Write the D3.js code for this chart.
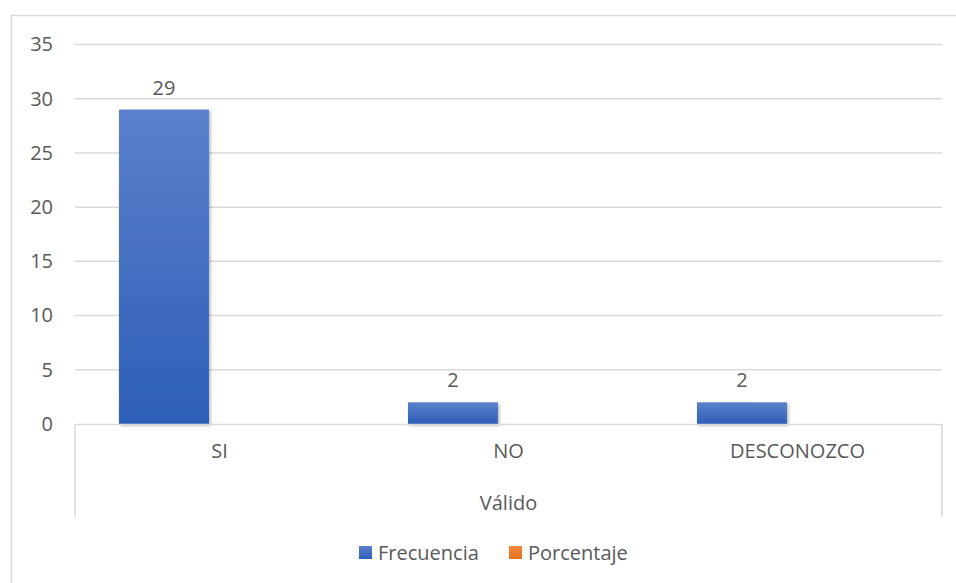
<!DOCTYPE html>
<html>
<head>
<meta charset="utf-8">
<script src="https://cdn.jsdelivr.net/npm/d3@7"></script>
<style>
  html, body { margin: 0; padding: 0; background: #fff; }
  svg { display: block; }
  text { font-family: "Open Sans", "Liberation Sans", sans-serif; fill: #595959; }
</style>
</head>
<body>
<svg id="chart" width="956" height="583"></svg>
<script>
const categories = ["SI", "NO", "DESCONOZCO"];
const seriesNames = ["Frecuencia", "Porcentaje"];
const frecuencia = [29, 2, 2];
const porcentaje = [0, 0, 0];
const yTicks = [0, 5, 10, 15, 20, 25, 30, 35];
const groupLabel = "Válido";

const colors = { Frecuencia: "url(#gradBlue)", Porcentaje: "#ed7d31" };

const svg = d3.select("#chart");
const plot = { left: 75, right: 942, top: 44.5, bottom: 424 };
const FS = 20;

const defs = svg.append("defs");
const grad = defs.append("linearGradient").attr("id", "gradBlue")
  .attr("x1", 0).attr("y1", 0).attr("x2", 0).attr("y2", 1);
grad.append("stop").attr("offset", "0%").attr("stop-color", "#5b80cb");
grad.append("stop").attr("offset", "100%").attr("stop-color", "#2d5fb8");
const lg = defs.append("linearGradient").attr("id", "gradLeg")
  .attr("x1", 0).attr("y1", 0).attr("x2", 0).attr("y2", 1);
lg.append("stop").attr("offset", "0%").attr("stop-color", "#5b80cb");
lg.append("stop").attr("offset", "100%").attr("stop-color", "#2d5fb8");
const lgo = defs.append("linearGradient").attr("id", "gradLegO")
  .attr("x1", 0).attr("y1", 0).attr("x2", 0).attr("y2", 1);
lgo.append("stop").attr("offset", "0%").attr("stop-color", "#f4883a");
lgo.append("stop").attr("offset", "100%").attr("stop-color", "#e2701f");
const flt = defs.append("filter").attr("id", "shadow")
  .attr("x", "-20%").attr("y", "-20%").attr("width", "140%").attr("height", "140%");
flt.append("feDropShadow").attr("dx", 1.5).attr("dy", 1.5).attr("stdDeviation", 1.8)
  .attr("flood-color", "#000").attr("flood-opacity", 0.3);

// outer chart border
svg.append("rect").attr("x", 11.5).attr("y", 15.5).attr("width", 1000).attr("height", 1000)
  .attr("fill", "none").attr("stroke", "#d9d9d9").attr("stroke-width", 1.5);

const x0 = d3.scaleBand().domain(categories).range([plot.left, plot.right]).padding(0);
const x1 = d3.scaleBand().domain(seriesNames).range([0, x0.bandwidth()])
  .paddingInner(0.19).paddingOuter(0.396);
const y = d3.scaleLinear().domain([0, 35]).range([plot.bottom, plot.top]);

// gridlines
svg.append("g").selectAll("line").data(yTicks.filter(t => t > 0)).join("line")
  .attr("x1", plot.left).attr("x2", plot.right)
  .attr("y1", d => y(d)).attr("y2", d => y(d))
  .attr("stroke", "#d9d9d9").attr("stroke-width", 1.5);

// y axis labels
const yAxis = d3.axisLeft(y).tickValues(yTicks).tickSize(0).tickPadding(0);
const gy = svg.append("g").attr("transform", `translate(53,0)`).call(yAxis);
gy.select(".domain").remove();
gy.selectAll("text").attr("font-size", FS).attr("fill", "#595959")
  .style("font-family", "'Open Sans', sans-serif");

// bars
const rows = categories.map((c, i) => ({ cat: c, values: [
  { s: "Frecuencia", v: frecuencia[i] }, { s: "Porcentaje", v: porcentaje[i] }] }));

const groups = svg.append("g").selectAll("g").data(rows).join("g")
  .attr("transform", d => `translate(${x0(d.cat)},0)`);
groups.selectAll("rect").data(d => d.values.filter(e => e.v > 0)).join("rect")
  .attr("x", d => x1(d.s)).attr("width", x1.bandwidth())
  .attr("y", d => y(d.v)).attr("height", d => y(0) - y(d.v))
  .attr("fill", d => colors[d.s]).attr("filter", "url(#shadow)");
groups.selectAll("text.lbl").data(d => d.values.filter(e => e.s === "Frecuencia")).join("text")
  .attr("class", "lbl")
  .attr("x", d => x1(d.s) + x1.bandwidth() / 2).attr("y", d => y(d.v) - 15)
  .attr("text-anchor", "middle").attr("font-size", FS).text(d => d.v);

// category axis line and separators
svg.append("line").attr("x1", plot.left).attr("x2", plot.right)
  .attr("y1", plot.bottom + 0.5).attr("y2", plot.bottom + 0.5)
  .attr("stroke", "#d9d9d9").attr("stroke-width", 1.5);
svg.append("g").selectAll("line").data([plot.left, plot.right]).join("line")
  .attr("x1", d => d).attr("x2", d => d)
  .attr("y1", plot.bottom).attr("y2", 517)
  .attr("stroke", "#d9d9d9").attr("stroke-width", 1.5);

// category labels
const xAxis = d3.axisBottom(x0).tickSize(0).tickPadding(0);
const gx = svg.append("g").attr("transform", `translate(0,444)`).call(xAxis);
gx.select(".domain").remove();
gx.selectAll("text").attr("font-size", FS).attr("fill", "#595959")
  .style("font-family", "'Open Sans', sans-serif");

svg.append("text").attr("x", (plot.left + plot.right) / 2).attr("y", 510)
  .attr("text-anchor", "middle").attr("font-size", FS).text(groupLabel);

// legend
const legendX = [359, 509];
const leg = svg.append("g").selectAll("g").data(seriesNames).join("g")
  .attr("transform", (d, i) => `translate(${legendX[i]},546)`);
leg.append("rect").attr("width", 13).attr("height", 13)
  .attr("fill", (d, i) => i === 0 ? "url(#gradLeg)" : "url(#gradLegO)");
leg.append("text").attr("x", 19).attr("y", 14).attr("font-size", FS).text(d => d);
</script>
</body>
</html>
